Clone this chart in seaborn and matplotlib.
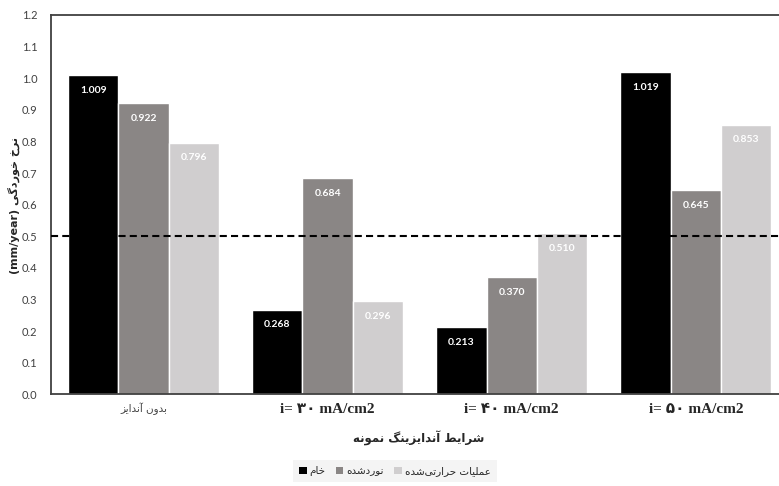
import pandas as pd
import seaborn as sns
import matplotlib.pyplot as plt
from matplotlib.patches import Patch

sns.set_style("white")
plt.rcParams["font.family"] = ["Lato", "DejaVu Sans"]

# data
categories = ["بدون آندایز", "i= ۳۰ mA/cm2", "i= ۴۰ mA/cm2", "i= ۵۰ mA/cm2"]
series = ["خام", "نوردشده", "عملیات حرارتی‌شده"]
raw = [1.009, 0.268, 0.213, 1.019]
rolled = [0.922, 0.684, 0.370, 0.645]
heat_treated = [0.796, 0.296, 0.510, 0.853]
threshold = 0.5
colors = ["#000000", "#8a8685", "#d0cecf"]

ylabel = "نرخ خوردگی"
ylabel_unit = "(mm/year)"
xlabel = "شرایط آندایزینگ نمونه"

# minimal Persian shaping (matplotlib does not join Arabic letters)
FORMS = {
    "ا": ("\uFE8D", "\uFE8E", None, None),
    "آ": ("\uFE81", "\uFE82", None, None),
    "ب": ("\uFE8F", "\uFE90", "\uFE91", "\uFE92"),
    "ت": ("\uFE95", "\uFE96", "\uFE97", "\uFE98"),
    "ح": ("\uFEA1", "\uFEA2", "\uFEA3", "\uFEA4"),
    "خ": ("\uFEA5", "\uFEA6", "\uFEA7", "\uFEA8"),
    "د": ("\uFEA9", "\uFEAA", None, None),
    "ر": ("\uFEAD", "\uFEAE", None, None),
    "ز": ("\uFEAF", "\uFEB0", None, None),
    "ش": ("\uFEB5", "\uFEB6", "\uFEB7", "\uFEB8"),
    "ط": ("\uFEC1", "\uFEC2", "\uFEC3", "\uFEC4"),
    "ع": ("\uFEC9", "\uFECA", "\uFECB", "\uFECC"),
    "ل": ("\uFEDD", "\uFEDE", "\uFEDF", "\uFEE0"),
    "م": ("\uFEE1", "\uFEE2", "\uFEE3", "\uFEE4"),
    "ن": ("\uFEE5", "\uFEE6", "\uFEE7", "\uFEE8"),
    "ه": ("\uFEE9", "\uFEEA", "\uFEEB", "\uFEEC"),
    "و": ("\uFEED", "\uFEEE", None, None),
    "ی": ("\uFBFC", "\uFBFD", "\uFBFE", "\uFBFF"),
    "گ": ("\uFB92", "\uFB93", "\uFB94", "\uFB95"),
}


def shape(text):
    if not any(c in FORMS for c in text):
        return text
    out = []
    for i, ch in enumerate(text):
        if ch not in FORMS:
            if ch != "\u200c":
                out.append(ch)
            continue
        iso, fin, ini, med = FORMS[ch]
        prev = text[i - 1] if i > 0 else ""
        nxt = text[i + 1] if i < len(text) - 1 else ""
        join_prev = prev in FORMS and FORMS[prev][2] is not None
        join_next = nxt in FORMS and ini is not None
        if join_prev and join_next:
            out.append(med)
        elif join_prev:
            out.append(fin)
        elif join_next:
            out.append(ini)
        else:
            out.append(iso)
    return "".join(reversed(out))


df = pd.DataFrame({
    "category": categories * 3,
    "series": [series[0]] * 4 + [series[1]] * 4 + [series[2]] * 4,
    "value": raw + rolled + heat_treated,
})

fig = plt.figure(figsize=(7.79, 4.86), dpi=100)
ax = fig.add_axes([0.0661, 0.1883, 0.9452, 0.781])

sns.barplot(data=df, x="category", y="value", hue="series",
            palette=colors, width=0.82, saturation=1, legend=False, ax=ax)

ax.axhline(threshold, color="black", lw=1.5, linestyle=(0, (3.4, 2.0)), zorder=5)

for cont in ax.containers:
    for bar in cont:
        h = bar.get_height()
        ax.annotate(f"{h:.3f}", xy=(bar.get_x() + bar.get_width() / 2, h),
                    xytext=(0, -11), textcoords="offset points",
                    ha="center", va="center", color="white",
                    fontsize=7.5, fontweight="bold", zorder=6)

ax.set_ylim(0, 1.2)
ax.set_yticks([i / 10 for i in range(13)])
ax.set_yticklabels([f"{i / 10:.1f}" for i in range(13)])
ax.tick_params(axis="y", length=0, pad=10, labelsize=8, labelcolor="#404040")
ax.tick_params(axis="x", length=0, pad=6)

ax.set_xticks(range(len(categories)))
ax.set_xticklabels([shape(c) for c in categories])
for i, lbl in enumerate(ax.get_xticklabels()):
    if i == 0:
        lbl.set_fontfamily(["DejaVu Sans"])
        lbl.set_fontsize(7.5)
        lbl.set_color("#404040")
    else:
        lbl.set_fontfamily(["Liberation Serif", "DejaVu Sans"])
        lbl.set_fontsize(11)
        lbl.set_fontweight("bold")
        lbl.set_color("#262626")

ax.set_xlabel("")
ax.set_ylabel("")
fig.text(0.537, 0.098, shape(xlabel), ha="center", va="center",
         fontsize=8.5, fontweight="bold", color="#262626", family=["DejaVu Sans"])
fig.text(0.018, 0.577, ylabel_unit + " " + shape(ylabel), rotation=90,
         ha="center", va="center", fontsize=8, fontweight="bold",
         color="#262626", family=["DejaVu Sans"])

for side in ["left", "top", "bottom", "right"]:
    ax.spines[side].set_visible(True)
    ax.spines[side].set_color("#404040")
    ax.spines[side].set_linewidth(1.3)

handles = [Patch(facecolor=c, edgecolor="none") for c in colors]
leg = fig.legend(handles, [shape(s) for s in series], loc="center",
                 bbox_to_anchor=(0.507, 0.031), ncol=3, frameon=True,
                 handlelength=0.7, handleheight=0.7,
                 handletextpad=0.3, columnspacing=1.0, borderpad=0.6,
                 prop={"family": ["DejaVu Sans"], "size": 7.5})
leg.get_frame().set_facecolor("#f2f2f2")
leg.get_frame().set_edgecolor("none")
leg.get_frame().set_boxstyle("square", pad=0)

fig.savefig("out.png", dpi=100)
